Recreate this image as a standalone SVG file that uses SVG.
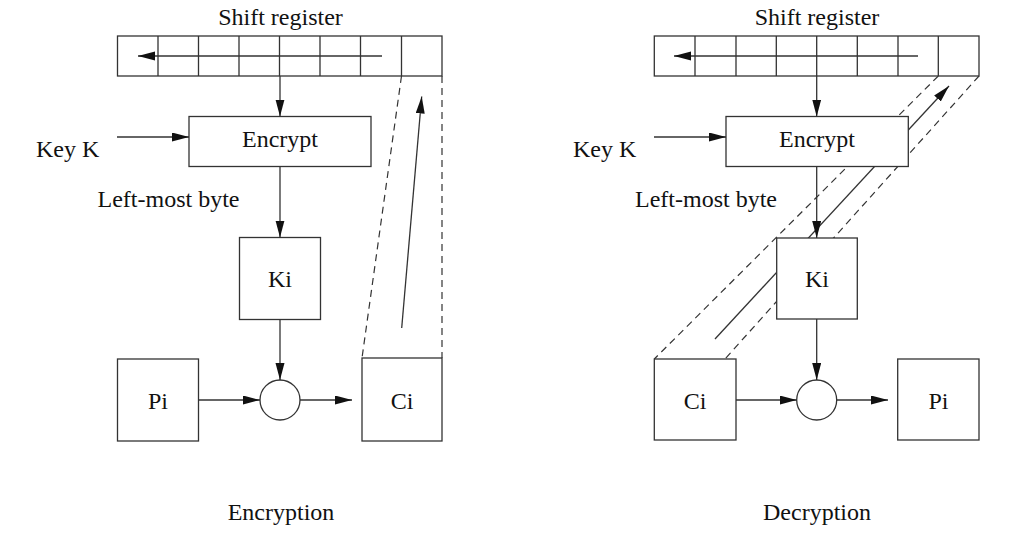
<svg xmlns="http://www.w3.org/2000/svg" width="1010" height="540" viewBox="0 0 1010 540">
<style>
.box{fill:#fff;stroke:#333;stroke-width:1.3}
.ln{fill:none;stroke:#333;stroke-width:1.3}
.dash{fill:none;stroke:#333;stroke-width:1.2;stroke-dasharray:7,5}
.t{font-family:"Liberation Serif","Times New Roman",serif;font-size:24px;fill:#111;text-anchor:middle}
.ts{font-family:"Liberation Serif","Times New Roman",serif;font-size:24px;fill:#111}
</style>
<defs>
<marker id="ah" markerUnits="userSpaceOnUse" markerWidth="18" markerHeight="10" refX="17" refY="4.5" orient="auto">
<path d="M0,0 L17,4.5 L0,9 z" fill="#111"/>
</marker>
</defs>
<rect width="1010" height="540" fill="#fff"/>

<g id="feedback">
<line class="dash" x1="401.5" y1="76" x2="362" y2="358"/>
<line class="dash" x1="442" y1="76" x2="442" y2="358"/>
<line class="ln" x1="401.7" y1="328" x2="421.7" y2="96.5" marker-end="url(#ah)"/>
<line class="dash" x1="938.3" y1="76" x2="654.3" y2="359"/>
<line class="dash" x1="979" y1="76" x2="725" y2="359"/>
<line class="ln" x1="715" y1="339" x2="949" y2="86" marker-end="url(#ah)"/>
</g>

<g id="enc-register">
<rect class="box" x="117.5" y="36" width="324.5" height="40"/>
<path class="ln" d="M158,36V76M198.5,36V76M239,36V76M279.5,36V76M320,36V76M360.5,36V76M401.5,36V76"/>
<line class="ln" x1="382" y1="56" x2="138" y2="56" marker-end="url(#ah)"/>
<text class="t" x="280.5" y="25">Shift register</text>
</g>
<g id="enc-encrypt">
<rect class="box" x="189" y="116.5" width="182" height="50"/>
<text class="t" x="280" y="147">Encrypt</text>
</g>
<g id="enc-key"><text class="ts" x="36" y="157">Key K</text></g>
<g id="enc-lmb"><text class="ts" x="97.5" y="207">Left-most byte</text></g>
<g id="enc-ki">
<rect class="box" x="239.5" y="237.5" width="81" height="82"/>
<text class="t" x="280" y="287">Ki</text>
</g>
<g id="enc-pi">
<rect class="box" x="117.5" y="359" width="81" height="82"/>
<text class="t" x="158" y="409">Pi</text>
</g>
<g id="enc-xor"><circle class="box" cx="280" cy="400" r="20"/></g>
<g id="enc-ci">
<rect class="box" x="362" y="358" width="80" height="83"/>
<text class="t" x="402" y="409">Ci</text>
</g>
<g id="enc-caption"><text class="t" x="281" y="520">Encryption</text></g>

<g id="dec-register">
<rect class="box" x="654.3" y="36" width="324.7" height="40"/>
<path class="ln" d="M695,36V76M736,36V76M776.3,36V76M816.7,36V76M857.3,36V76M898,36V76M938.3,36V76"/>
<line class="ln" x1="918" y1="56" x2="674" y2="56" marker-end="url(#ah)"/>
<text class="t" x="817" y="25">Shift register</text>
</g>
<g id="dec-encrypt">
<rect class="box" x="726" y="116.5" width="182.3" height="50"/>
<text class="t" x="817" y="147">Encrypt</text>
</g>
<g id="dec-key"><text class="ts" x="573" y="157">Key K</text></g>
<g id="dec-lmb"><text class="ts" x="635" y="207">Left-most byte</text></g>
<g id="dec-ki">
<rect class="box" x="776.7" y="238" width="80.6" height="81"/>
<text class="t" x="817" y="287">Ki</text>
</g>
<g id="dec-ci">
<rect class="box" x="654.3" y="359" width="81.7" height="81"/>
<text class="t" x="695" y="409">Ci</text>
</g>
<g id="dec-xor"><circle class="box" cx="816.7" cy="400" r="20"/></g>
<g id="dec-pi">
<rect class="box" x="897.7" y="359" width="81.3" height="81"/>
<text class="t" x="938.5" y="409">Pi</text>
</g>
<g id="dec-caption"><text class="t" x="817" y="520">Decryption</text></g>

<g id="connectors">
<line class="ln" x1="280" y1="76" x2="280" y2="116.5" marker-end="url(#ah)"/>
<line class="ln" x1="117" y1="137" x2="189" y2="137" marker-end="url(#ah)"/>
<line class="ln" x1="280" y1="166.5" x2="280" y2="237.5" marker-end="url(#ah)"/>
<line class="ln" x1="280" y1="319.5" x2="280" y2="380" marker-end="url(#ah)"/>
<line class="ln" x1="198.5" y1="400" x2="260" y2="400" marker-end="url(#ah)"/>
<line class="ln" x1="300" y1="400" x2="352" y2="400" marker-end="url(#ah)"/>
<line class="ln" x1="816.7" y1="76" x2="816.7" y2="116.5" marker-end="url(#ah)"/>
<line class="ln" x1="654" y1="137" x2="726" y2="137" marker-end="url(#ah)"/>
<line class="ln" x1="816.7" y1="166.5" x2="816.7" y2="238" marker-end="url(#ah)"/>
<line class="ln" x1="816.7" y1="319" x2="816.7" y2="380" marker-end="url(#ah)"/>
<line class="ln" x1="736" y1="400" x2="796.7" y2="400" marker-end="url(#ah)"/>
<line class="ln" x1="836.7" y1="400" x2="888" y2="400" marker-end="url(#ah)"/>
</g>
</svg>
